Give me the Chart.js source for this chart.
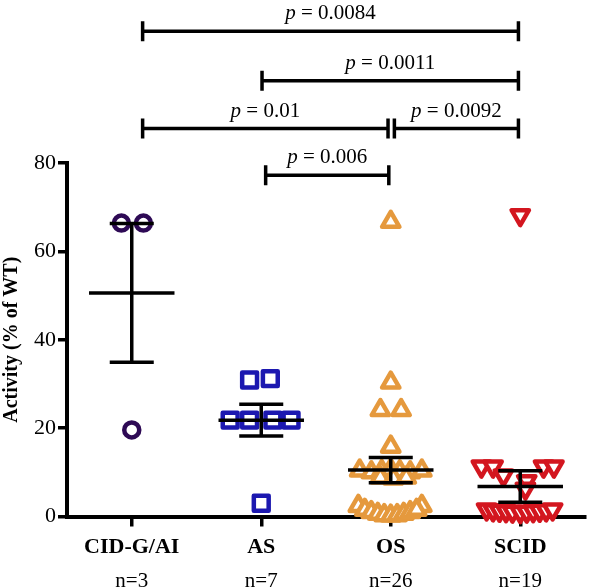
<!DOCTYPE html>
<html>
<head>
<meta charset="utf-8">
<script src="https://cdn.jsdelivr.net/npm/chart.js@4.4.1/dist/chart.umd.min.js"></script>
<style>
  html, body { margin: 0; padding: 0; background: #fff; }
  #wrap { width: 600px; height: 588px; position: relative; }
</style>
</head>
<body>
<div id="wrap"><canvas id="chart"></canvas></div>
<script>
// ---- data ----
const categories = ['CID-G/AI', 'AS', 'OS', 'SCID'];
const groupSizes = ['n=3', 'n=7', 'n=26', 'n=19'];
const yTicks = [0, 20, 40, 60, 80];

// activity (% of WT) per patient, with the horizontal scatter offset of each mark
const cidValues = [66.4, 66.4, 19.6];
const cidOffsets = [-0.08, 0.09, 0];

const asValues = [30.9, 31.2, 21.8, 21.8, 21.8, 21.8, 3.0];
const asOffsets = [-0.09, 0.07, -0.24, -0.09, 0.09, 0.23, 0];

const osValues = [66.7, 30.3, 24.1, 24.1, 15.8,
  10.4, 10.0, 10.3, 10.6, 10.2, 10.0, 10.4,
  8.8, 8.6, 8.8,
  2.4, 2.4,
  1.5, 1.0, 0.6, 0.3, 0.2, 0.3, 0.6, 1.0, 1.5];
const osOffsets = [0, 0, -0.08, 0.08, 0,
  -0.24, -0.15, -0.07, 0, 0.07, 0.15, 0.24,
  -0.08, 0.02, 0.12,
  -0.25, 0.24,
  -0.2, -0.15, -0.1, -0.05, 0, 0.05, 0.1, 0.15, 0.2];

const scidValues = [68.2, 11.3, 11.3, 11.3, 11.3,
  9.3, 8.0, 6.3,
  1.6, 1.4, 1.3, 1.2, 1.1, 1.0, 1.1, 1.2, 1.3, 1.4, 1.6];
const scidOffsets = [0, -0.30, -0.21, 0.18, 0.26,
  -0.13, 0.05, 0.04,
  -0.26, -0.21, -0.16, -0.11, -0.06, 0, 0.05, 0.1, 0.15, 0.2, 0.25];

// mean ± SEM per group
const groupMeans = [50.6, 21.8, 10.5, 6.8];
const groupSem = [15.7, 3.6, 2.85, 3.55];

// significance brackets (x in category units, level in y units)
const bracketFrom = [1.084, 2.006, 1.084, 3.028, 2.034];
const bracketTo = [3.986, 3.986, 2.979, 3.986, 2.985];
const bracketLevel = [109.8, 98.6, 87.8, 87.8, 77.2];
const bracketP = ['0.0084', '0.0011', '0.01', '0.0092', '0.006'];

const SERIF = '"Liberation Serif", "Times New Roman", serif';

const toPoints = (cat, vals, offs) => vals.map((v, i) => ({ x: cat + offs[i], y: v }));

// rounded corners on the open markers
const roundJoins = {
  id: 'roundJoins',
  beforeDatasetsDraw(chart) { chart.ctx.save(); chart.ctx.lineJoin = 'round'; },
  afterDatasetsDraw(chart) { chart.ctx.restore(); }
};

// mean line + SEM whiskers, drawn on top of the marks
const errorBars = {
  id: 'errorBars',
  afterDatasetsDraw(chart) {
    const { ctx, scales: { x, y } } = chart;
    ctx.save();
    ctx.strokeStyle = '#000';
    ctx.lineWidth = 3.5;
    ctx.lineCap = 'butt';
    groupMeans.forEach((m, i) => {
      const c = i + 1;
      const s = groupSem[i];
      const line = (x0, x1, v) => {
        ctx.beginPath();
        ctx.moveTo(x.getPixelForValue(x0), y.getPixelForValue(v));
        ctx.lineTo(x.getPixelForValue(x1), y.getPixelForValue(v));
        ctx.stroke();
      };
      line(c - 0.33, c + 0.33, m);
      line(c - 0.17, c + 0.17, m + s);
      line(c - 0.17, c + 0.17, m - s);
      ctx.beginPath();
      ctx.moveTo(x.getPixelForValue(c), y.getPixelForValue(m + s));
      ctx.lineTo(x.getPixelForValue(c), y.getPixelForValue(m - s));
      ctx.stroke();
    });
    ctx.restore();
  }
};

// p-value brackets above the groups
const brackets = {
  id: 'brackets',
  afterDraw(chart) {
    const { ctx, scales: { x, y } } = chart;
    ctx.save();
    ctx.strokeStyle = '#000';
    ctx.fillStyle = '#000';
    ctx.lineWidth = 3.5;
    bracketP.forEach((p, i) => {
      const x0 = x.getPixelForValue(bracketFrom[i]);
      const x1 = x.getPixelForValue(bracketTo[i]);
      const yy = y.getPixelForValue(bracketLevel[i]);
      ctx.beginPath();
      ctx.moveTo(x0, yy); ctx.lineTo(x1, yy);
      ctx.moveTo(x0, yy - 10); ctx.lineTo(x0, yy + 10);
      ctx.moveTo(x1, yy - 10); ctx.lineTo(x1, yy + 10);
      ctx.stroke();

      const italic = 'italic 21px ' + SERIF;
      const roman = '21px ' + SERIF;
      const rest = ' = ' + p;
      ctx.font = italic;
      const wp = ctx.measureText('p').width;
      ctx.font = roman;
      const wr = ctx.measureText(rest).width;
      const left = (x0 + x1) / 2 - (wp + wr) / 2;
      ctx.textBaseline = 'alphabetic';
      ctx.textAlign = 'left';
      ctx.font = italic;
      ctx.fillText('p', left, yy - 12);
      ctx.font = roman;
      ctx.fillText(rest, left + wp, yy - 12);
    });
    ctx.restore();
  }
};

const marker = (color, style, radius, rotation) => ({
  borderColor: color,
  backgroundColor: '#fff',
  pointStyle: style,
  pointRadius: radius,
  pointBorderWidth: 4.5,
  pointRotation: rotation || 0,
  pointBackgroundColor: '#fff',
  pointBorderColor: color,
  clip: false
});

const categoryTicks = s => { s.ticks = [1, 2, 3, 4].map(v => ({ value: v })); };

new Chart(document.getElementById('chart'), {
  type: 'scatter',
  data: {
    datasets: [
      { label: 'CID-G/AI', data: toPoints(1, cidValues, cidOffsets), ...marker('#2e0a55', 'circle', 7.5) },
      { label: 'AS', data: toPoints(2, asValues, asOffsets), ...marker('#1c18b0', 'rect', 10.5) },
      { label: 'OS', data: toPoints(3, osValues, osOffsets), ...marker('#e5993d', 'triangle', 10) },
      { label: 'SCID', data: toPoints(4, scidValues, scidOffsets), ...marker('#d3161f', 'triangle', 10, 180) }
    ]
  },
  options: {
    responsive: true,
    maintainAspectRatio: false,
    animation: false,
    events: [],
    layout: { padding: { top: 163, left: 0, right: 0, bottom: 0 } },
    plugins: { legend: { display: false }, tooltip: { enabled: false } },
    scales: {
      x: {
        type: 'linear', min: 0.5, max: 4.5, position: 'bottom', weight: 0,
        afterBuildTicks: categoryTicks,
        afterFit: s => { s.height = 40; },
        border: { display: true, color: '#000', width: 4 },
        grid: { drawOnChartArea: false, drawTicks: true, tickLength: 10, lineWidth: 3.5, color: '#000' },
        ticks: {
          color: '#000', padding: 8,
          font: { family: SERIF, size: 22, weight: 'bold' },
          callback: v => categories[v - 1]
        }
      },
      x2: {
        type: 'linear', min: 0.5, max: 4.5, position: 'bottom', weight: 1,
        afterBuildTicks: categoryTicks,
        afterFit: s => { s.height = 31.5; },
        border: { display: false },
        grid: { display: false, drawTicks: false },
        ticks: {
          color: '#000', padding: 12,
          font: { family: SERIF, size: 21 },
          callback: v => groupSizes[v - 1]
        }
      },
      y: {
        min: 0, max: 80,
        afterBuildTicks: s => { s.ticks = yTicks.map(v => ({ value: v })); },
        afterFit: s => { s.width = 67; },
        border: { display: true, color: '#000', width: 4 },
        grid: { drawOnChartArea: false, drawTicks: true, tickLength: 9, lineWidth: 3.5, color: '#000' },
        ticks: { color: '#000', padding: 2, font: { family: SERIF, size: 22 } },
        title: {
          display: true, text: 'Activity (% of WT)', color: '#000', padding: 0,
          font: { family: SERIF, size: 20, weight: 'bold' }
        }
      }
    }
  },
  plugins: [roundJoins, errorBars, brackets]
});
</script>
</body>
</html>
